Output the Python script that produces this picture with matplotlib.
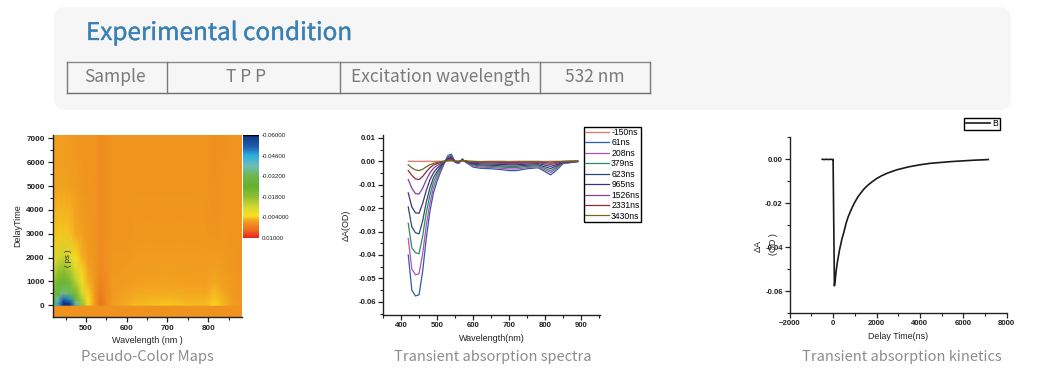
import numpy as np
import matplotlib
matplotlib.use('Agg')
import matplotlib.pyplot as plt
import matplotlib.patheffects as pe
from matplotlib.colors import LinearSegmentedColormap, Normalize
from matplotlib.patches import FancyBboxPatch
from matplotlib.ticker import MultipleLocator

W, H = 1047, 381
plt.rcParams['font.family'] = ['Liberation Sans', 'DejaVu Sans']
CJK = ['Noto Sans CJK SC', 'DejaVu Sans']

# header table
table_cells = ['Sample', 'T P P', 'Excitation wavelength', '532 nm']
table_edges = [67, 167, 340, 540, 650]
table_text_x = [115, 246, 440.5, 595]

# pseudo-color map
map_wl = [419, 430, 445, 460, 475, 490, 505, 520, 535, 550, 565, 585, 620, 700, 760, 795, 815, 835, 860, 883]
map_delay = [-490, -20, 20, 100, 250, 500, 1000, 1500, 2000, 3000, 5000, 7140]
map_before = [0.0004] * 20
map_20 = [-.024, -.046, -.060, -.060, -.042, -.018, -.006, -.001, .004, .001, -.001, -.002, -.003, -.0035, -.003, -.003, -.0045, -.003, -.001, -.0003]
map_100 = [-.024, -.044, -.060, -.058, -.038, -.017, -.0055, -.001, .004, .001, -.001, -.0015, -.0028, -.0032, -.0028, -.0028, -.004, -.0028, -.001, -.0003]
map_250 = [-.024, -.038, -.052, -.049, -.030, -.015, -.005, -.001, .0035, .001, -.0008, -.0012, -.0024, -.0028, -.0024, -.0024, -.0035, -.0024, -.0008, -.0003]
map_500 = [-.022, -.030, -.036, -.033, -.022, -.011, -.004, -.0008, .003, .001, -.0006, -.001, -.002, -.0022, -.0018, -.0018, -.003, -.0018, -.0006, -.0002]
map_1000 = [-.017, -.022, -.024, -.021, -.014, -.006, -.0025, -.0005, .002, .0008, -.0004, -.0006, -.0012, -.0014, -.0012, -.0012, -.002, -.0012, -.0004, -.0002]
map_1500 = [-.011, -.016, -.018, -.015, -.009, -.004, -.0015, -.0003, .0015, .0006, -.0003, -.0004, -.0008, -.001, -.0008, -.0008, -.0012, -.0008, -.0003, -.0001]
map_2000 = [-.0065, -.011, -.012, -.010, -.005, -.0025, -.0008, -.0002, .0012, .0005, -.0002, -.0003, -.0005, -.0006, -.0005, -.0005, -.0006, -.0005, -.0002, 0]
map_3000 = [-.0032, -.0036, -.0036, -.0032, -.0020, -.001, -.0003, 0, .0012, .0005, -.0001, -.0001, -.0003, -.0003, -.0002, -.0002, .0001, -.0002, -.0001, 0]
map_5000 = [-.0012, -.0014, -.0014, -.0011, -.0007, -.0003, -.0001, 0, .0012, .0005, 0, 0, -.0001, -.0001, 0, 0, .0006, 0, 0, 0]
map_7000 = [-.0007, -.0007, -.0007, -.0005, -.0003, -.0001, 0, 0, .0012, .0005, 0, 0, 0, 0, 0, 0, .0008, .0003, 0, 0]
cbar_ticks = [-0.06, -0.046, -0.032, -0.018, -0.004, 0.01]
cbar_labels = ['-0.06000', '-0.04600', '-0.03200', '-0.01800', '-0.004000', '0.01000']

# transient spectra
spec_wl = [420, 430, 440, 450, 460, 470, 480, 490, 500, 510, 520, 530, 540, 550, 560, 570, 580, 590, 600, 620, 650, 680, 700, 720, 750, 780, 795, 815, 830, 850, 870, 890]
spec_m150 = [0, 0, -.0001, 0, -.0001, 0, 0, -.0001, 0, 0, 0, .0001, .0001, 0, 0, .0001, 0, 0, 0, -.0001, 0, 0, -.0001, 0, 0, 0, -.0001, 0, 0, 0, 0, 0]
spec_61 = [-.040, -.055, -.0575, -.0570, -.0470, -.0330, -.0215, -.0135, -.0085, -.0045, -.0010, .0025, .0030, -.0005, -.0010, .0010, -.0005, -.0015, -.0025, -.0030, -.0032, -.0036, -.0040, -.0040, -.0032, -.0028, -.0040, -.0058, -.0040, -.0010, -.0006, -.0002]
spec_208 = [-.033, -.046, -.0485, -.048, -.0395, -.0275, -.018, -.0112, -.007, -.0037, -.0008, .002, .0026, -.0004, -.0008, .0009, -.0004, -.0012, -.002, -.0025, -.0027, -.003, -.0033, -.0033, -.0027, -.0024, -.0034, -.0048, -.0033, -.0008, -.0005, -.0001]
spec_379 = [-.0265, -.037, -.039, -.0395, -.032, -.022, -.0145, -.009, -.0056, -.003, -.0006, .0016, .0022, -.0003, -.0006, .0008, -.0003, -.001, -.0016, -.002, -.0022, -.0025, -.0027, -.0027, -.0022, -.002, -.0028, -.004, -.0027, -.0006, -.0004, -.0001]
spec_623 = [-.0195, -.028, -.0305, -.031, -.0255, -.0175, -.0115, -.007, -.0044, -.0023, -.0004, .0013, .0018, -.0002, -.0005, .0006, -.0002, -.0008, -.0012, -.0016, -.0017, -.002, -.0021, -.0021, -.0017, -.0015, -.0022, -.0031, -.0021, -.0005, -.0003, -.0001]
spec_965 = [-.0135, -.0195, -.022, -.0222, -.018, -.0125, -.008, -.005, -.003, -.0016, -.0002, .001, .0013, -.0001, -.0003, .0005, -.0001, -.0005, -.0009, -.0011, -.0012, -.0014, -.0015, -.0015, -.0012, -.001, -.0015, -.0022, -.0015, -.0004, -.0002, 0]
spec_1526 = [-.0078, -.0115, -.0138, -.014, -.0115, -.008, -.005, -.003, -.0018, -.001, -.0001, .0006, .001, 0, -.0002, .0004, 0, -.0003, -.0005, -.0007, -.0008, -.0009, -.001, -.001, -.0008, -.0006, -.001, -.0014, -.001, -.0002, -.0001, 0]
spec_2331 = [-.004, -.006, -.0075, -.0078, -.0065, -.0045, -.0028, -.0016, -.001, -.0005, 0, .0004, .0006, 0, -.0001, .0003, 0, -.0002, -.0003, -.0004, -.0004, -.0005, -.0005, -.0005, -.0004, -.0003, -.0005, -.0008, -.0005, -.0001, 0, 0]
spec_3430 = [-.0015, -.0028, -.0037, -.004, -.0034, -.0024, -.0015, -.0009, -.0005, -.0002, 0, .0002, .0003, 0, 0, .0002, .0002, 0, -.0001, -.0002, -.0002, -.0002, -.0003, -.0003, -.0002, -.0002, -.0003, -.0004, -.0002, -.0001, 0, 0]
spec_labels = ['-150ns', '61ns', '208ns', '379ns', '623ns', '965ns', '1526ns', '2331ns', '3430ns']
spec_colors = ['#dc7468', '#2f5ca8', '#b052b8', '#2e8b60', '#2c4a6e', '#43307f', '#8a3fa0', '#8b2a3a', '#6b6b20']

# kinetics
kin_t = [-500, -400, -300, -200, -100, -20, 0, 60, 100, 150, 200, 300, 400, 500, 600, 700, 850, 1000, 1150, 1300, 1450, 1600, 1800, 2000, 2250, 2500, 2750, 3000, 3500, 4000, 4500, 5000, 5500, 6000, 6500, 7000, 7150]
kin_a = [0, -.0001, 0, -.0001, 0, -.0001, 0, -.0575, -.0545, -.050, -.0465, -.041, -.0365, -.033, -.029, -.026, -.0225, -.0195, -.0170, -.0150, -.0132, -.0118, -.0102, -.0088, -.0074, -.0063, -.0054, -.0046, -.0034, -.0025, -.0018, -.0014, -.001, -.0007, -.0004, -.0002, -.0001]

fig = plt.figure(figsize=(W / 100, H / 100), dpi=100)


def px_axes(left, top, right, bottom):
    return fig.add_axes([left / W, 1 - bottom / H, (right - left) / W, (bottom - top) / H])


def style(ax, size=5.6, pad=2.5):
    for s in ['top', 'right']:
        ax.spines[s].set_visible(False)
    for s in ['left', 'bottom']:
        ax.spines[s].set_linewidth(1.0)
        ax.spines[s].set_color('#222222')
    ax.tick_params(which='major', length=3.5, width=0.9, labelsize=size, pad=pad, colors='#222222')
    ax.tick_params(which='minor', length=2, width=0.8, colors='#222222')
    for t in ax.get_xticklabels() + ax.get_yticklabels():
        t.set_fontweight('bold')
    ax.patch.set_alpha(0)


# page overlay in pixel coordinates
page = fig.add_axes([0, 0, 1, 1])
page.set_xlim(0, W)
page.set_ylim(H, 0)
page.axis('off')
page.add_patch(FancyBboxPatch((54, 7), 957, 103, boxstyle='round,pad=0,rounding_size=12',
                              fc='#f6f6f6', ec='none'))
page.text(86, 33, 'Experimental condition', family=CJK, fontsize=17.5, color='#3b80b5', va='center',
          path_effects=[pe.withStroke(linewidth=0.25, foreground='#3b80b5')])
page.plot([table_edges[0], table_edges[-1]], [62, 62], color='#8a8a8a', lw=1)
page.plot([table_edges[0], table_edges[-1]], [93, 93], color='#6e6e6e', lw=1)
for x in table_edges:
    page.plot([x, x], [62, 93], color='#7a7a7a', lw=1)
for x, label in zip(table_text_x, table_cells):
    page.text(x, 76.5, label, family=CJK, fontsize=12.5, color='#7a7a7a', ha='center', va='center')
page.text(147, 357.5, 'Pseudo-Color Maps', family=CJK, fontsize=10.6, color='#8c8c8c', ha='center', va='center')
page.text(493, 357.5, 'Transient absorption spectra', family=CJK, fontsize=10.5, color='#8c8c8c', ha='center', va='center')
page.text(902, 357.5, 'Transient absorption kinetics', family=CJK, fontsize=10.5, color='#8c8c8c', ha='center', va='center')

# pseudo-color map
cmap = LinearSegmentedColormap.from_list('pseudo', [
    (0.0, '#10357f'), (0.115, '#1f5fae'), (0.2, '#2ab0e0'), (0.3, '#70bcb4'), (0.4, '#6fb64a'),
    (0.5, '#63b22e'), (0.6, '#8fc030'), (0.71, '#d8d832'), (0.79, '#f8e020'), (0.83, '#f4a820'),
    (0.86, '#ef941e'), (0.93, '#ee6a1e'), (1.0, '#e8281e')])
norm = Normalize(-0.06, 0.01)
ax1 = px_axes(53, 135, 242, 317)
map_z = np.array([map_before, map_before, map_20, map_100, map_250, map_500, map_1000, map_1500, map_2000, map_3000, map_5000, map_7000])
mesh = ax1.pcolormesh(map_wl, map_delay, map_z, cmap=cmap, norm=norm, shading='gouraud', rasterized=True)
ax1.set_xlim(419, 883)
ax1.set_ylim(-490, 7140)
ax1.xaxis.set_major_locator(MultipleLocator(100))
ax1.xaxis.set_minor_locator(MultipleLocator(50))
ax1.yaxis.set_major_locator(MultipleLocator(1000))
ax1.yaxis.set_minor_locator(MultipleLocator(500))
style(ax1, size=5.9)
ax1.set_xlabel('Wavelength (nm )', fontsize=6.5, labelpad=2.5, color='#222222')
ax1.set_ylabel('DelayTime', fontsize=6.5, labelpad=2.5, color='#222222')
ax1.text(69, 258, '( ps )', fontsize=5.5, rotation=90, ha='center', va='center', color='#222222',
         transform=page.transData)

cax = px_axes(243, 135, 258.5, 237.7)
cb = fig.colorbar(mesh, cax=cax)
cax.invert_yaxis()
cb.outline.set_visible(False)
cb.set_ticks(cbar_ticks)
cb.set_ticklabels(cbar_labels)
cax.tick_params(length=0, labelsize=4.4, pad=2.5, colors='#222222')
cax.axhline(-0.06, color='black', lw=1)

# transient spectra
ax2 = px_axes(383, 135, 600, 314.7)
spec_series = [spec_m150, spec_61, spec_208, spec_379, spec_623, spec_965, spec_1526, spec_2331, spec_3430]
for values, label, color in zip(spec_series, spec_labels, spec_colors):
    ax2.plot(spec_wl, values, color=color, lw=0.9, label=label)
ax2.set_xlim(350, 952)
ax2.set_ylim(-0.0655, 0.0112)
ax2.xaxis.set_major_locator(MultipleLocator(100))
ax2.xaxis.set_minor_locator(MultipleLocator(50))
ax2.yaxis.set_major_locator(MultipleLocator(0.01))
ax2.yaxis.set_minor_locator(MultipleLocator(0.005))
ax2.yaxis.set_major_formatter(lambda v, pos: f'{v:.2f}')
style(ax2, pad=1.5)
ax2.set_xlabel('Wavelength(nm)', fontsize=6.5, labelpad=3.5, color='#222222')
ax2.set_ylabel('ΔA(OD)', fontsize=6.5, labelpad=5.5, color='#222222')
leg = ax2.legend(loc='upper left', bbox_to_anchor=(584 / W, 1 - 126.5 / H), bbox_transform=fig.transFigure,
                 fontsize=6.2, frameon=True, fancybox=False, framealpha=1, edgecolor='black', borderaxespad=0,
                 borderpad=0.15, labelspacing=0.17, handlelength=2.7, handletextpad=0.3)
leg.get_frame().set_linewidth(1.0)

# kinetics
ax3 = px_axes(789.7, 137.3, 1006.7, 313.3)
ax3.plot(kin_t, kin_a, color='#1a1a1a', lw=1.2, label='B')
ax3.set_xlim(-2000, 8000)
ax3.set_ylim(-0.07, 0.01)
ax3.xaxis.set_major_locator(MultipleLocator(2000))
ax3.xaxis.set_minor_locator(MultipleLocator(1000))
ax3.yaxis.set_major_locator(MultipleLocator(0.02))
ax3.yaxis.set_minor_locator(MultipleLocator(0.01))
ax3.yaxis.set_major_formatter(lambda v, pos: f'{v:.2f}')
style(ax3, pad=1.5)
ax3.set_xlabel('Delay Time(ns)', fontsize=6.4, labelpad=3.5, color='#222222')
page.text(758, 246.5, 'ΔA', fontsize=6.5, rotation=90, ha='center', va='center', color='#222222')
page.text(773, 244, '(OD )', fontsize=6.5, rotation=90, ha='center', va='center', color='#222222')
leg3 = ax3.legend(loc='upper left', bbox_to_anchor=(964 / W, 1 - 117.5 / H), bbox_transform=fig.transFigure,
                  fontsize=6.2, frameon=True, fancybox=False, framealpha=1, edgecolor='black', borderaxespad=0,
                  borderpad=0.2, handlelength=2.8, handletextpad=0.3)
leg3.get_frame().set_linewidth(1.0)

fig.savefig('out.png', dpi=100)
